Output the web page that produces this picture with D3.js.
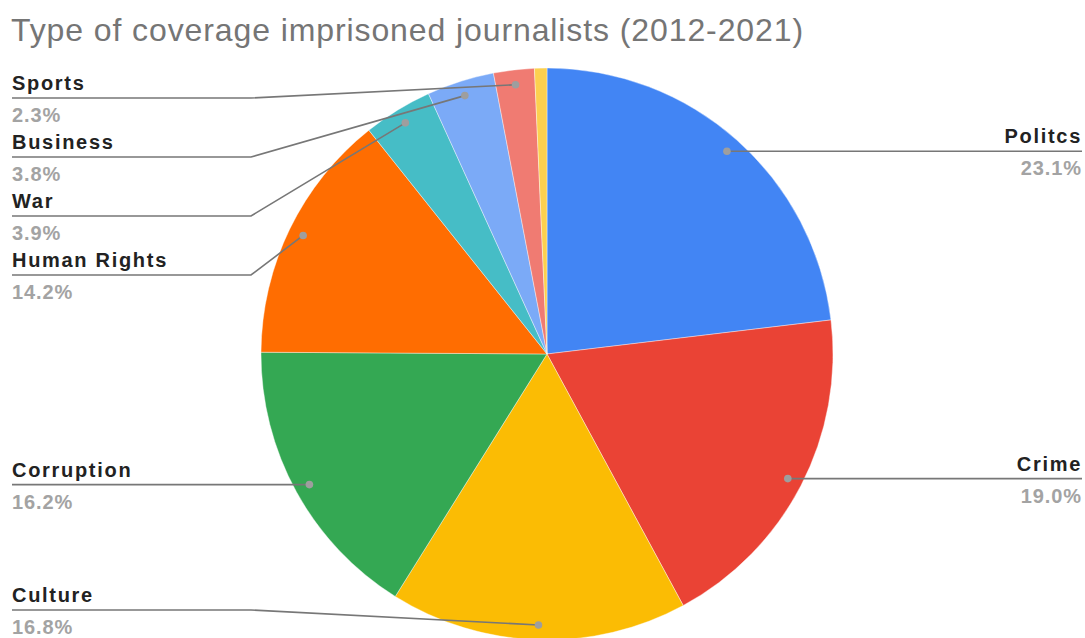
<!DOCTYPE html>
<html><head><meta charset="utf-8">
<script src="https://cdn.jsdelivr.net/npm/d3@7"></script>
<style>body{margin:0;background:#fff;}svg{display:block;}</style>
</head><body>
<svg id="chart" width="1085" height="638"></svg>
<script>
const categories = ["Politcs","Crime","Culture","Corruption","Human Rights","War","Business","Sports","Other"];
const values = [23.1, 19.0, 16.8, 16.2, 14.2, 3.9, 3.8, 2.3, 0.7];
const showLabel = [true,true,true,true,true,true,true,true,false];
const colors = ["#4285F4","#EA4335","#FBBC04","#34A853","#FF6D01","#46BDC6","#7BAAF7","#F07B72","#FCD04F"];
const title = "Type of coverage imprisoned journalists (2012-2021)";

const W = 1085, H = 638;
const cx = 547, cy = 354, R = 286;
const svg = d3.select("#chart");
const FONT = "'Liberation Sans', Arial, Helvetica, sans-serif";

svg.append("text").attr("x", 11).attr("y", 41)
  .attr("font-family", FONT).attr("font-size", 32).attr("letter-spacing", 0.9)
  .attr("fill", "#757575").text(title);

const data = categories.map((c,i)=>({name:c, value:values[i], color:colors[i], label:showLabel[i]}));
const pie = d3.pie().value(d=>d.value).sort(null);
const arcs = pie(data);
const arc = d3.arc().innerRadius(0).outerRadius(R);
const g = svg.append("g").attr("transform", `translate(${cx},${cy})`);
g.selectAll("path").data(arcs).join("path")
  .attr("d", arc).attr("fill", d=>d.data.color)
  .attr("stroke", "#fff").attr("stroke-width", 0.4);

const dotR = R * 0.948;
const items = arcs.filter(a=>a.data.label).map(a=>{
  const m = (a.startAngle + a.endAngle)/2;
  return {a, name:a.data.name, value:a.data.value,
    dx: cx + dotR*Math.sin(m), dy: cy - dotR*Math.cos(m), side: Math.sin(m) >= 0 ? "right" : "left"};
});

// label layout: stack each side
const gap = 59, minY = 98, maxY = 610;
["left","right"].forEach(side=>{
  const arr = items.filter(d=>d.side===side).sort((p,q)=>p.dy-q.dy);
  arr.forEach((d,i)=>{ d.ly = Math.max(d.dy, i===0 ? minY : arr[i-1].ly + gap); });
  for (let i=arr.length-1;i>=0;i--){
    const lim = i===arr.length-1 ? maxY : arr[i+1].ly - gap;
    if (arr[i].ly > lim) arr[i].ly = lim;
  }
});

const lg = svg.append("g");
items.forEach(d=>{
  let pts;
  if (d.side === "left") {
    const elbow = 251;
    pts = Math.abs(d.ly - d.dy) < 1 ? [[12,d.ly],[d.dx,d.dy]] : [[12,d.ly],[elbow,d.ly],[d.dx,d.dy]];
  } else {
    const elbow = 834;
    pts = Math.abs(d.ly - d.dy) < 1 ? [[1082,d.ly],[d.dx,d.dy]] : [[1082,d.ly],[elbow,d.ly],[d.dx,d.dy]];
  }
  lg.append("path").attr("d", d3.line()(pts)).attr("fill","none")
    .attr("stroke","#777").attr("stroke-width",1.6);
  lg.append("circle").attr("cx",d.dx).attr("cy",d.dy).attr("r",3.8).attr("fill","#9e9e9e");
  const x = d.side==="left" ? 12 : 1082;
  const anchor = d.side==="left" ? "start" : "end";
  lg.append("text").attr("x",x).attr("y",d.ly-8).attr("text-anchor",anchor)
    .attr("font-family",FONT).attr("font-weight",700).attr("font-size",20)
    .attr("letter-spacing", 1.7)
    .attr("fill","#222").text(d.name);
  lg.append("text").attr("x",x).attr("y",d.ly+24).attr("text-anchor",anchor)
    .attr("font-family",FONT).attr("font-weight",700).attr("font-size",20)
    .attr("letter-spacing", 0.9)
    .attr("fill","#a3a3a3").text(d.value.toFixed(1)+"%");
});
</script>
</body></html>
